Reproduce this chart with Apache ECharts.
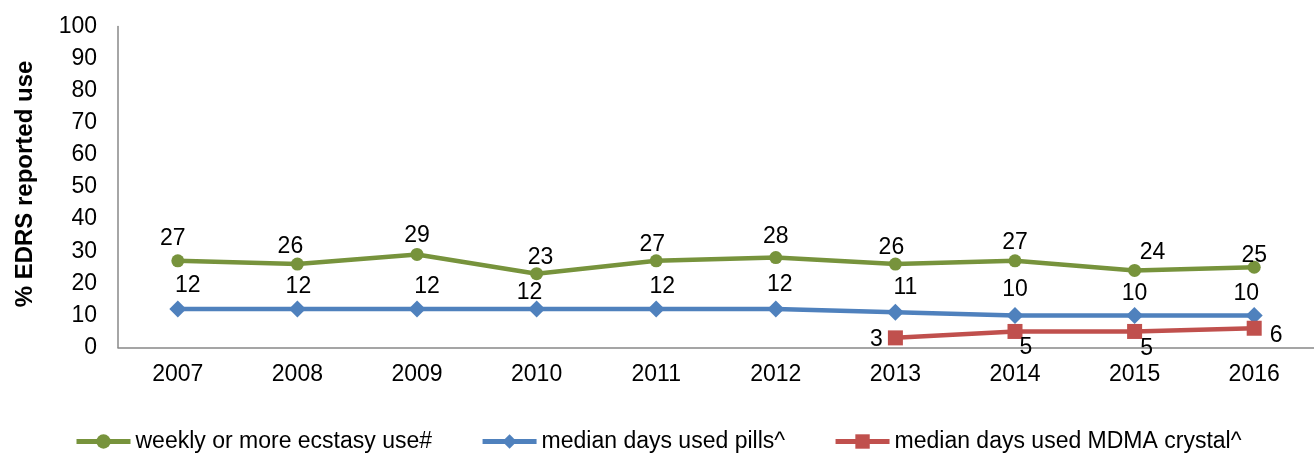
<!DOCTYPE html>
<html>
<head>
<meta charset="utf-8">
<script src="https://cdn.jsdelivr.net/npm/echarts@6/dist/echarts.min.js"></script>
<style>
  html, body { margin: 0; padding: 0; background: #fff; }
  #chart { width: 1314px; height: 457px; }
</style>
</head>
<body>
<div id="chart"></div>
<script>
// data
const years = ['2007', '2008', '2009', '2010', '2011', '2012', '2013', '2014', '2015', '2016']
const weeklyUse = [27, 26, 29, 23, 27, 28, 26, 27, 24, 25]
const pillsDays = [12, 12, 12, 12, 12, 12, 11, 10, 10, 10]
const crystalDays = [null, null, null, null, null, null, 3, 5, 5, 6]

const font = 'Liberation Sans, Arial, sans-serif'

// label nudges (Excel places them a bit unevenly)
const weeklyNudge = [[-5, -4], [-7, 1], [0, -1], [4, 2], [-4, 2], [0, -3], [-4, 2], [0, 0], [18, 0], [0, 6]]
const pillsNudge = [[10, -3], [1, -2], [10, -2], [-7, 4], [6, -2], [4, -4], [10, -5], [0, -6], [0, -2], [-8, -2]]
const crystalLabel = {
  6: { position: 'left', distance: 5, offset: [0, 2] },
  7: { position: 'bottom', distance: 0, offset: [11, -3] },
  8: { position: 'bottom', distance: 0, offset: [12, -2] },
  9: { position: 'right', distance: 8, offset: [0, 7] }
}

const withLabels = (arr, nudge) => arr.map((v, i) => ({ value: v, label: { offset: nudge[i] } }))

const chart = echarts.init(document.getElementById('chart'))

chart.setOption({
  backgroundColor: '#ffffff',
  animation: false,
  textStyle: { fontFamily: font },
  grid: { left: 118, width: 1210, top: 26.5, bottom: 109.5 },
  legend: {
    top: 425,
    left: 69,
    itemWidth: 54,
    itemHeight: 18,
    itemGap: 48,
    lineStyle: { width: 5 },
    textStyle: { fontSize: 23, color: '#000', fontFamily: font },
    data: ['weekly or more ecstasy use#', 'median days used pills^', 'median days used MDMA crystal^']
  },
  xAxis: {
    type: 'category',
    data: years,
    boundaryGap: true,
    axisLine: { lineStyle: { color: '#888', width: 1.5 } },
    axisTick: { show: false },
    axisLabel: { fontSize: 23, color: '#000', margin: 16 }
  },
  yAxis: {
    type: 'value',
    min: 0,
    max: 100,
    interval: 10,
    name: '% EDRS reported use',
    nameLocation: 'middle',
    nameGap: 81,
    nameTextStyle: { fontSize: 24, fontWeight: 'bold', color: '#000', padding: [0, 0, 0, 6] },
    axisLine: { show: true, lineStyle: { color: '#888', width: 1.5 } },
    axisTick: { show: false },
    splitLine: { show: false },
    axisLabel: { fontSize: 23, color: '#000', margin: 21 }
  },
  series: [
    {
      name: 'weekly or more ecstasy use#',
      type: 'line',
      data: withLabels(weeklyUse, weeklyNudge),
      symbol: 'circle',
      symbolSize: 13,
      lineStyle: { width: 4.5, color: '#77933C' },
      itemStyle: { color: '#77933C' },
      label: { show: true, position: 'top', distance: 0, fontSize: 23, color: '#000' }
    },
    {
      name: 'median days used pills^',
      type: 'line',
      data: withLabels(pillsDays, pillsNudge),
      symbol: 'diamond',
      symbolSize: 17,
      lineStyle: { width: 4.5, color: '#4F81BD' },
      itemStyle: { color: '#4F81BD' },
      label: { show: true, position: 'top', distance: 0, fontSize: 23, color: '#000' }
    },
    {
      name: 'median days used MDMA crystal^',
      type: 'line',
      data: crystalDays.map((v, i) => crystalLabel[i] ? { value: v, label: crystalLabel[i] } : v),
      symbol: 'rect',
      symbolSize: 15,
      connectNulls: false,
      lineStyle: { width: 4.5, color: '#C0504D' },
      itemStyle: { color: '#C0504D' },
      label: { show: true, fontSize: 23, color: '#000' }
    }
  ]
})
</script>
</body>
</html>
